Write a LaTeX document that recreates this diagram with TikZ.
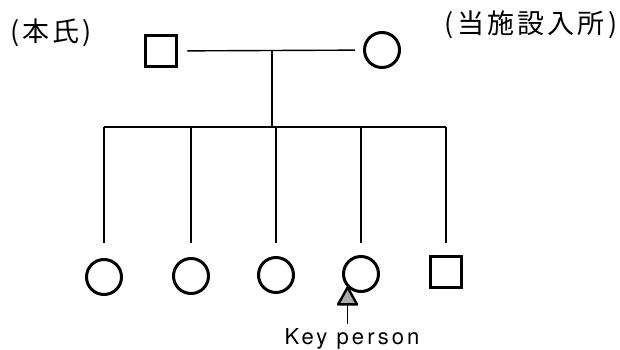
\documentclass[tikz,border=0pt]{standalone}
\usepackage{fontspec}
\setmainfont{TeX Gyre Heros}
\newfontfamily\jpfont[LetterSpace=12]{Noto Sans CJK JP}
\usetikzlibrary{calc}

\tikzset{
  male/.style={draw, rectangle, line width=3pt, minimum size=31.5pt, inner sep=0pt},
  female/.style={draw, circle, line width=3pt, minimum size=35pt, inner sep=0pt},
  link/.style={line width=1.4pt},
  jplabel/.style={font=\jpfont\fontsize{27}{27}\selectfont, inner sep=0pt},
  marker/.style={fill=gray!65, draw=black, line width=2.4pt, line join=round}
}

\begin{document}
\begin{tikzpicture}[x=1pt, y=-1pt]
  \useasboundingbox (0,0) rectangle (620,350);

  % parents
  \node[male]   (f) at (161,51) {};
  \node[female] (m) at (382,50) {};
  \coordinate (mid) at (272,51);
  \coordinate (sib) at (272,127);
  \coordinate (drop) at (272,243);

  % children
  \node[female] (c1) at (104,277) {};
  \node[female] (c2) at (191,276) {};
  \node[female] (c3) at (276,275) {};
  \node[female] (c4) at (361,274) {};
  \node[male]   (c5) at (446,272) {};

  % labels
  \node[jplabel] (self) at (51,33) {(本氏)};
  \node[jplabel] (inst) at (531,25) {(当施設入所)};
  \node[font=\fontsize{22}{22}\selectfont\addfontfeatures{LetterSpace=14}, anchor=base]
    (kp) at (352,344) {Key person};

  % marriage line and descent
  \draw[link, shorten <=9pt, shorten >=8pt] (f) -- (m);
  \draw[link] (mid) -- (sib);
  \draw[link] (c1 |- sib) -- (c5 |- sib);
  \foreach \c in {c1,c2,c3,c4,c5}
    \draw[link] (\c |- sib) -- (\c |- drop);

  % key person marker: shaft and filled triangle pointing at the circle
  \coordinate (tip) at (c4.225);
  \coordinate (base) at ($(tip)+(0,17)$);
  \draw[link] (kp.north -| tip) -- (base);
  \filldraw[marker] (tip) -- ++(-9.5,17) -- ++(19,0) -- cycle;
\end{tikzpicture}
\end{document}
